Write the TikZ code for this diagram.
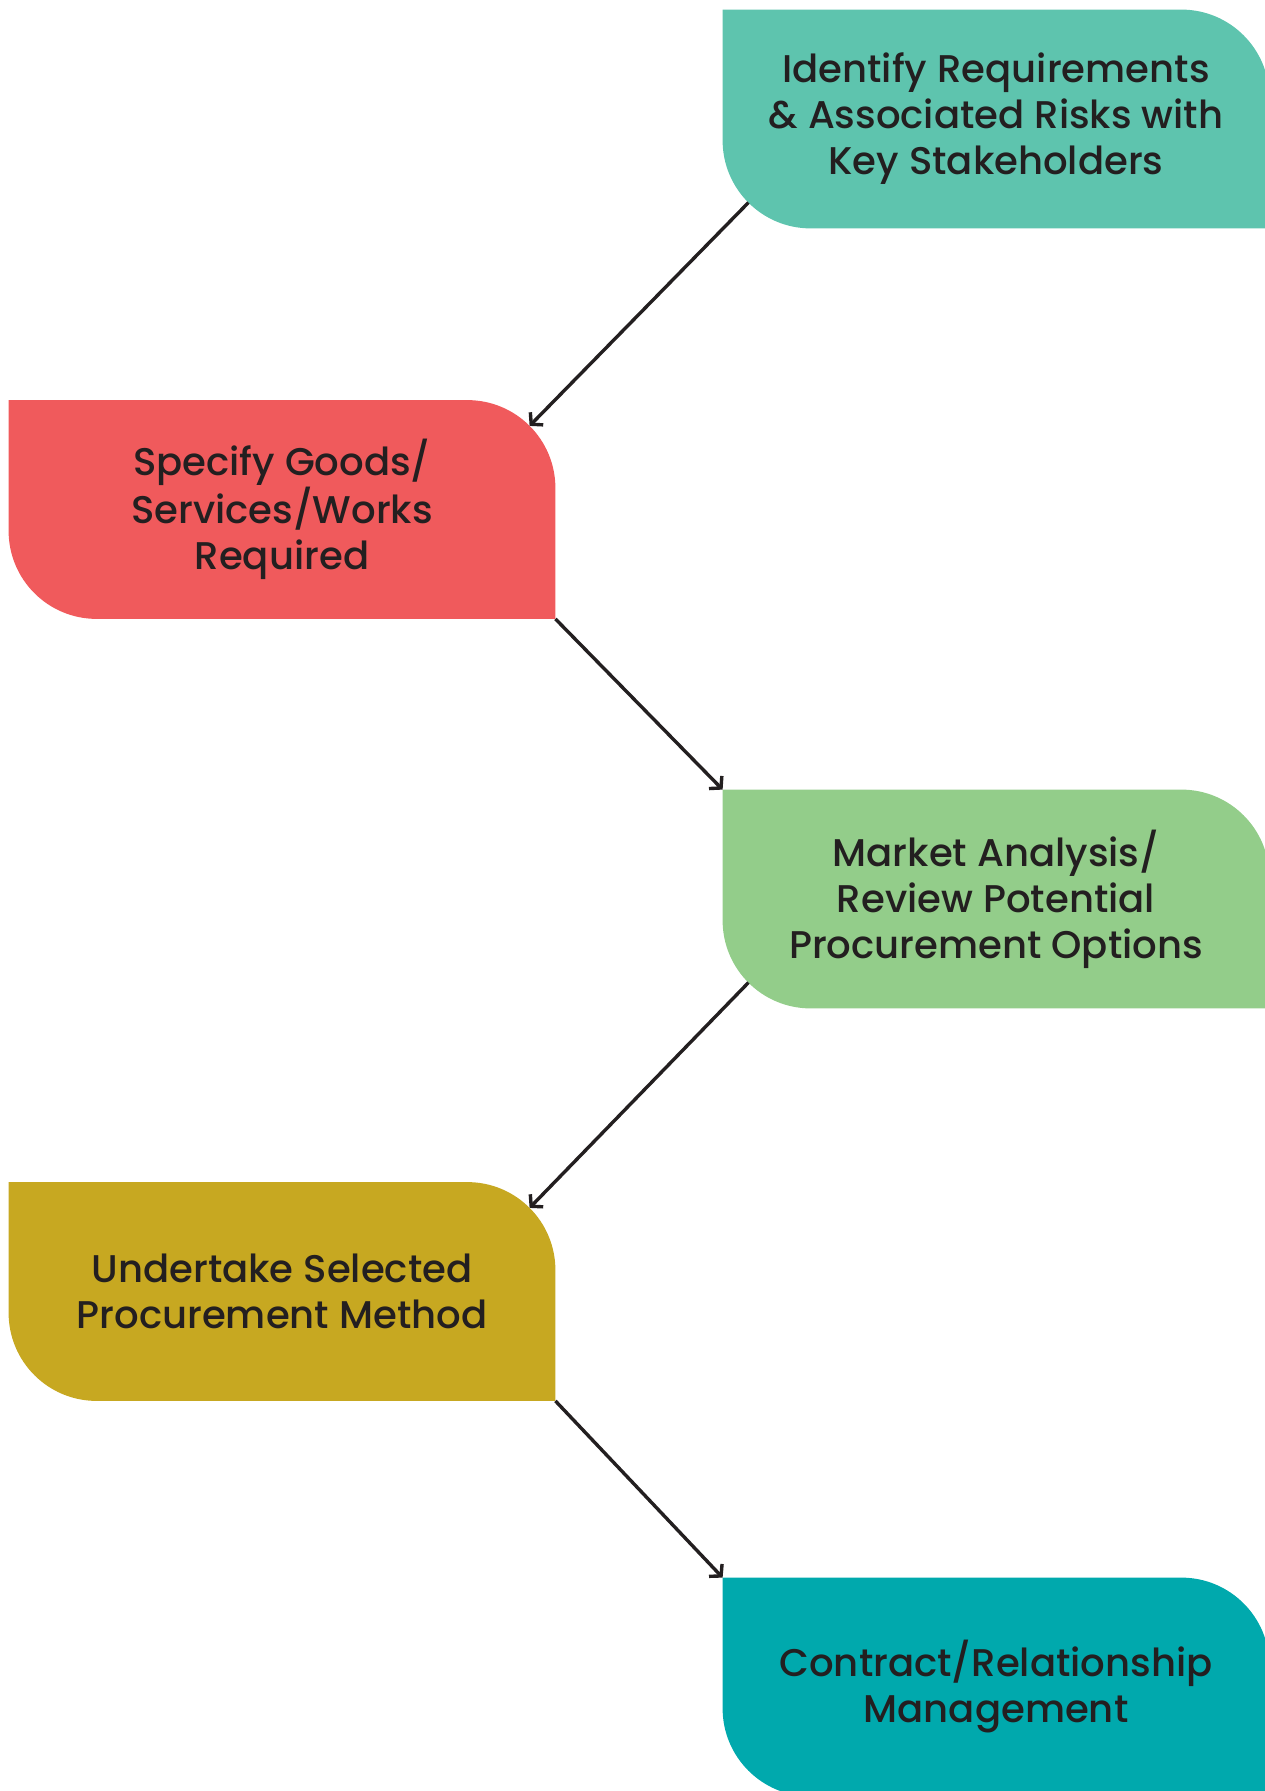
\documentclass[tikz,border=0pt]{standalone}
\usepackage{xcolor}
\usepackage{fontspec}
\setmainfont{Poppins Medium}
\usepackage{tikz}
\usetikzlibrary{positioning, arrows.meta, calc}
\pgfdeclarelayer{background}
\pgfsetlayers{background,main}

\definecolor{identifycol}{HTML}{5EC4AE}
\definecolor{specifycol}{HTML}{F05A5C}
\definecolor{marketcol}{HTML}{93CD8A}
\definecolor{undertakecol}{HTML}{C7A821}
\definecolor{contractcol}{HTML}{00A9AD}
\definecolor{inkcol}{HTML}{231F20}

\tikzset{
  stagebox/.style={minimum width=273pt, minimum height=109pt, inner sep=0pt,
    align=center, text=inkcol, font=\fontsize{19.3}{23}\selectfont},
  flow/.style={line width=1.7pt, draw=inkcol, -{Straight Barb[length=4pt, width=9pt]}}
}

% leaf shaped fill behind a node: round top right and bottom left
\newcommand{\leaffill}[2]{%
  \begin{pgfonlayer}{background}
    \fill[#2] (#1.north west) -- ([xshift=-44pt]#1.north east)
      arc[start angle=90, end angle=0, radius=44pt] -- (#1.south east)
      -- ([xshift=44pt]#1.south west)
      arc[start angle=270, end angle=180, radius=44pt] -- cycle;
  \end{pgfonlayer}
  \coordinate (#1-ne) at ([shift={(-12.9pt,-12.9pt)}]#1.north east);
  \coordinate (#1-sw) at ([shift={(12.9pt,12.9pt)}]#1.south west);
}

\begin{document}
\begin{tikzpicture}[x=0.5pt, y=-0.5pt]
  \clip (0,0) rectangle (1264,1791);

  \node[stagebox] (identify) at (996,119) {Identify Requirements\\ \& Associated Risks with\\ Key Stakeholders};
  \node[stagebox] (specify) at (282,509.5) {Specify Goods/\\Services/Works\\Required};
  \node[stagebox] (market) at (996,899) {Market Analysis/\\Review Potential\\Procurement Options};
  \node[stagebox] (undertake) at (282,1291.5) {Undertake Selected\\Procurement Method};
  \node[stagebox] (contract) at (996,1687) {Contract/Relationship\\Management};

  \leaffill{identify}{identifycol}
  \leaffill{specify}{specifycol}
  \leaffill{market}{marketcol}
  \leaffill{undertake}{undertakecol}
  \leaffill{contract}{contractcol}

  \draw[flow] (identify-sw) -- (specify-ne);
  \draw[flow] (specify.south east) -- (market.north west);
  \draw[flow] (market-sw) -- (undertake-ne);
  \draw[flow] (undertake.south east) -- (contract.north west);
\end{tikzpicture}
\end{document}
